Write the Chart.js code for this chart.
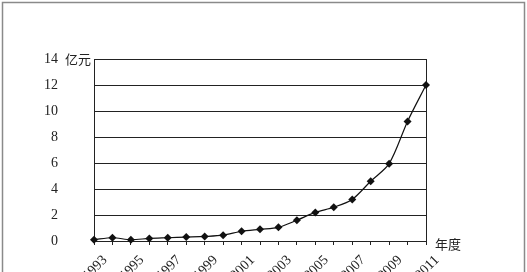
<!DOCTYPE html>
<html>
<head>
<meta charset="utf-8">
<script src="https://cdn.jsdelivr.net/npm/chart.js@4.4.0/dist/chart.umd.min.js"></script>
<style>
html,body{margin:0;padding:0;background:#fff;}
#wrap{width:527px;height:272px;position:relative;}
</style>
</head>
<body>
<div id="wrap"><canvas id="c" width="527" height="272"></canvas></div>
<script>
const years = ['1993','1994','1995','1996','1997','1998','1999','2000','2001','2002','2003','2004','2005','2006','2007','2008','2009','2010','2011'];
const values = [0.1,0.25,0.1,0.2,0.25,0.3,0.35,0.45,0.75,0.9,1.05,1.6,2.2,2.6,3.2,4.6,5.95,9.2,12.0];
const yTicks = [0,2,4,6,8,10,12,14];
const yUnit = '亿元';
const xUnit = '年度';

const extras = {
  id: 'extras',
  afterDraw(chart) {
    const ctx = chart.ctx;
    const a = chart.chartArea;
    ctx.save();
    ctx.strokeStyle = '#8a8a8a';
    ctx.lineWidth = 1.5;
    ctx.strokeRect(2.5, 2.5, 522, 290);
    ctx.fillStyle = '#222';
    ctx.font = '13px "Noto Sans CJK SC"';
    ctx.textBaseline = 'middle';
    ctx.textAlign = 'left';
    const ys = chart.scales.y;
    ctx.fillText(yUnit, 65, ys.getPixelForValue(14));
    ctx.fillText(xUnit, a.right + 9, ys.getPixelForValue(0) + 3);
    ctx.restore();
  }
};

new Chart(document.getElementById('c'), {
  type: 'line',
  data: {
    labels: years,
    datasets: [{
      data: values,
      borderColor: '#111',
      borderWidth: 1.2,
      tension: 0.3,
      pointStyle: 'rectRot',
      pointRadius: 4,
      pointBackgroundColor: '#111',
      pointBorderColor: '#111',
      pointBorderWidth: 0,
      clip: false
    }]
  },
  options: {
    responsive: false,
    animation: false,
    devicePixelRatio: 1,
    layout: { padding: { left: 0, right: 101, top: 59, bottom: 0 } },
    plugins: { legend: { display: false }, tooltip: { enabled: false } },
    scales: {
      x: {
        offset: false,
        grid: {
          color: (c) => (c.index === years.length - 1 ? '#222' : 'rgba(0,0,0,0)'),
          tickColor: '#222',
          tickLength: 4,
          lineWidth: 1
        },
        border: { display: true, color: '#222', width: 1 },
        ticks: {
          autoSkip: false,
          maxRotation: 45,
          minRotation: 45,
          labelOffset: 11,
          padding: 7,
          color: '#222',
          font: { family: '"Liberation Serif"', size: 14 },
          callback: function(v, i) { return (i % 2 === 0) ? years[i] : ''; }
        },
        afterFit: (s) => { s.height = 31; }
      },
      y: {
        min: 0,
        max: 14,
        afterBuildTicks: (s) => { s.ticks = yTicks.map(v => ({ value: v })); },
        grid: { color: '#222', lineWidth: 1, drawTicks: false },
        border: { display: true, color: '#222', width: 1 },
        ticks: {
          padding: 36,
          color: '#222',
          font: { family: '"Liberation Serif"', size: 14 }
        },
        afterFit: (s) => { s.width = 94; s.paddingTop = 7; s.paddingBottom = 7; }
      }
    }
  },
  plugins: [extras]
});
</script>
</body>
</html>
